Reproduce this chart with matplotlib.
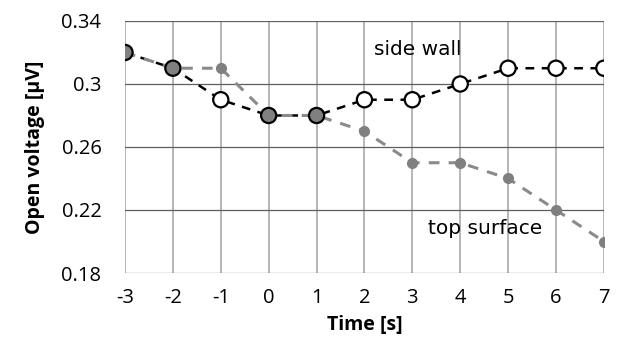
import matplotlib.pyplot as plt

time = [-3, -2, -1, 0, 1, 2, 3, 4, 5, 6, 7]
side_wall = [0.32, 0.31, 0.29, 0.28, 0.28, 0.29, 0.29, 0.30, 0.31, 0.31, 0.31]
top_surface = [0.32, 0.31, 0.31, 0.28, 0.28, 0.27, 0.25, 0.25, 0.24, 0.22, 0.20]
yticks = [0.18, 0.22, 0.26, 0.3, 0.34]
ytick_labels = ['0.18', '0.22', '0.26', '0.3', '0.34']

plt.rcParams['font.family'] = ['Open Sans', 'DejaVu Sans']

fig = plt.figure(figsize=(6.33, 3.53), dpi=100)
ax = fig.add_axes([0.1975, 0.2266, 0.7565, 0.714])

# grid: light vertical lines, darker horizontal ones
for x in time:
    ax.axvline(x, color='#b0b0b0', lw=1.3, zorder=0)
for y in yticks:
    ax.axhline(y, color='#5e5e5e', lw=0.9, zorder=0)

# side wall: black dashes, white circles
ax.plot(time, side_wall, '--', color='black', lw=1.8, dashes=(3.5, 3), zorder=2)
# points where both series meet show a grey fill
faces = ['#808080' if a == b else 'white' for a, b in zip(side_wall, top_surface)]
ax.scatter(time, side_wall, s=120, facecolors=faces, edgecolors='black',
           linewidths=1.6, zorder=4)

# top surface: grey dashes, small grey dots
ax.plot(time, top_surface, '--', color='#8a8a8a', lw=2.2, dashes=(3.5, 3),
        marker='o', ms=7, mfc='#808080', mec='#808080', zorder=3)

ax.text(3.12, 0.3216, 'side wall', ha='center', va='center', fontsize=14.5,
        family=['DejaVu Sans'])
ax.text(4.52, 0.2085, 'top surface', ha='center', va='center', fontsize=14.5,
        family=['DejaVu Sans'])

ax.set_xlim(-3, 7)
ax.set_ylim(0.18, 0.34)
ax.set_xticks(time)
ax.set_xticklabels([str(t) for t in time])
ax.set_yticks(yticks)
ax.set_yticklabels(ytick_labels)
ax.tick_params(length=0, labelsize=14.5)
ax.tick_params(axis='x', pad=11)
ax.tick_params(axis='y', pad=17)
for s in ax.spines.values():
    s.set_visible(False)
ax.set_xlabel('Time [s]', fontsize=14, fontweight='bold', labelpad=5)
ax.set_ylabel('Open voltage [µV]', fontsize=14, fontweight='bold', labelpad=12)

fig.savefig('out.png', dpi=100)
